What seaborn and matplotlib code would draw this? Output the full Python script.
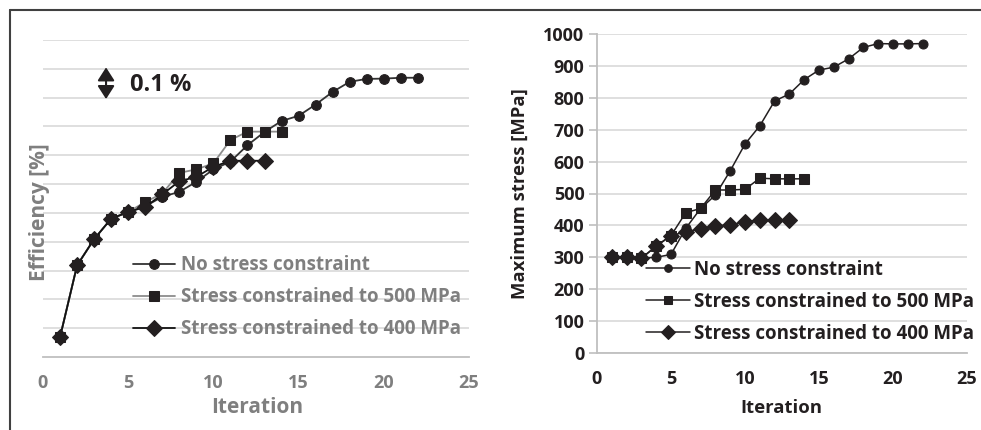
import numpy as np
import pandas as pd
import matplotlib
matplotlib.use("Agg")
import matplotlib.pyplot as plt
from matplotlib.lines import Line2D
import seaborn as sns

sns.set_theme(style="white")
plt.rcParams['font.family'] = ['Open Sans', 'DejaVu Sans']
plt.rcParams['font.weight'] = 'bold'

# ---------------- data ----------------
iter_none = list(range(1, 23))
iter_500 = list(range(1, 15))
iter_400 = list(range(1, 14))

# efficiency in grid units (1 grid = 0.1 %)
eff_none = [0.69, 3.18, 4.09, 4.80, 5.03, 5.23, 5.56, 5.73, 6.08, 6.51, 6.78, 7.35,
            7.81, 8.19, 8.37, 8.76, 9.20, 9.55, 9.65, 9.66, 9.69, 9.69]
eff_500 = [0.69, 3.18, 4.09, 4.80, 5.03, 5.38, 5.67, 6.39, 6.51, 6.72, 7.53, 7.82,
           7.82, 7.82]
eff_400 = [0.69, 3.18, 4.09, 4.80, 5.03, 5.21, 5.64, 6.10, 6.25, 6.60, 6.81, 6.81,
           6.81]

stress_none = [300, 302, 297, 300, 309, 391, 453, 495, 571, 655, 712, 790, 812,
               857, 887, 896, 922, 958, 970, 969, 969, 970]
stress_500 = [300, 302, 297, 335, 368, 440, 453, 511, 511, 513, 548, 546, 546, 546]
stress_400 = [300, 302, 297, 335, 368, 380, 389, 399, 401, 412, 416, 416, 416]

labels = ["No stress constraint", "Stress constrained to 500 MPa",
          "Stress constrained to 400 MPa"]
x_ticks = [0, 5, 10, 15, 20, 25]
stress_ticks = list(range(0, 1001, 100))

# ---------------- figure ----------------
fig = plt.figure(figsize=(9.81, 4.30), dpi=100)
W, H = 981, 430

def ax_rect(x0, x1, ytop, ybot):
    return [x0 / W, 1 - ybot / H, (x1 - x0) / W, (ybot - ytop) / H]

ax1 = fig.add_axes(ax_rect(43, 469, 40, 357))
ax2 = fig.add_axes(ax_rect(597, 967, 34, 353))

mk = '#231f20'
gray_txt = '#7f7f7f'
grid_c = '#d9d9d9'
axis_c = '#bfbfbf'
FS_TICK = 13
FS_LEG = 13.5

# ----- left chart -----
styles1 = [('o', 7, '#333333'), ('s', 7, '#8c8c8c'), ('D', 8.5, '#111111')]
for (m, ms, lc), xs, ys, lab in zip(styles1, [iter_none, iter_500, iter_400],
                                    [eff_none, eff_500, eff_400], labels):
    sns.lineplot(x=xs, y=ys, ax=ax1, marker=m, markersize=ms, color=lc,
                 markerfacecolor=mk, markeredgecolor=mk, linewidth=1.3,
                 label=lab, errorbar=None)

ax1.set_xlim(0, 25)
ax1.set_ylim(0, 11)
ax1.set_yticks(np.arange(1, 12))
ax1.set_yticklabels([])
ax1.tick_params(axis='y', length=0)
ax1.grid(axis='y', color=grid_c, linewidth=1.2)
ax1.set_axisbelow(True)
for s in ['top', 'right', 'left']:
    ax1.spines[s].set_visible(False)
ax1.spines['bottom'].set_color(axis_c)
ax1.spines['bottom'].set_linewidth(1.3)
ax1.set_xticks(x_ticks)
ax1.set_xticklabels([str(t) for t in x_ticks], fontsize=FS_TICK, color=gray_txt,
                    fontweight='bold')
ax1.tick_params(axis='x', length=0, pad=12)
ax1.set_xlabel("Iteration", fontsize=15, color=gray_txt, fontweight='bold')
ax1.xaxis.set_label_coords(0.502, -0.125)
ax1.set_ylabel("Efficiency [%]", fontsize=15, color=gray_txt, fontweight='bold')
ax1.yaxis.set_label_coords(0.016, 0.456)

ax1.annotate('', xy=(3.7, 10.05), xytext=(3.7, 8.95),
             arrowprops=dict(arrowstyle='<|-|>,head_length=0.5,head_width=0.32',
                             color='#231f20', lw=1.5,
                             mutation_scale=16, shrinkA=0, shrinkB=0))
ax1.text(5.1, 9.45, "0.1 %", fontsize=17, fontweight='bold', color='#231f20',
         va='center', ha='left')

leg1 = ax1.legend(loc='upper left', bbox_to_anchor=(0.194, 0.345), frameon=False,
                  fontsize=FS_LEG, handlelength=2.24, handletextpad=0.3,
                  labelspacing=0.64, borderaxespad=0)
for t in leg1.get_texts():
    t.set_color(gray_txt)
    t.set_fontweight('bold')

# ----- right chart -----
styles2 = [('o', 6.5, '#231f20'), ('s', 6.5, '#231f20'), ('D', 8, '#231f20')]
for (m, ms, lc), xs, ys, lab in zip(styles2, [iter_none, iter_500, iter_400],
                                    [stress_none, stress_500, stress_400], labels):
    sns.lineplot(x=xs, y=ys, ax=ax2, marker=m, markersize=ms, color=lc,
                 markerfacecolor=mk, markeredgecolor=mk, linewidth=1.1,
                 label=lab, errorbar=None)

ax2.set_xlim(0, 25)
ax2.set_ylim(0, 1000)
ax2.set_yticks(stress_ticks)
ax2.set_yticklabels([str(t) for t in stress_ticks], fontsize=FS_TICK, color='#231f20',
                    fontweight='bold')
ax2.grid(axis='y', color=grid_c, linewidth=1.2)
ax2.set_axisbelow(True)
for s in ['top', 'right']:
    ax2.spines[s].set_visible(False)
for s in ['left', 'bottom']:
    ax2.spines[s].set_color(axis_c)
    ax2.spines[s].set_linewidth(1.3)
ax2.tick_params(axis='y', length=6, color=axis_c, width=1.2, pad=3, left=True)
ax2.set_xticks(x_ticks)
ax2.set_xticklabels([str(t) for t in x_ticks], fontsize=FS_TICK, color='#231f20',
                    fontweight='bold')
ax2.tick_params(axis='x', length=0, pad=12)
ax2.set_xlabel("Iteration", fontsize=13.3, color='#231f20', fontweight='bold')
ax2.xaxis.set_label_coords(0.497, -0.143)
ax2.set_ylabel("Maximum stress [MPa]", fontsize=13.3, color='#231f20',
               fontweight='bold')
ax2.yaxis.set_label_coords(-0.184, 0.50)

leg2 = ax2.legend(loc='upper left', bbox_to_anchor=(0.112, 0.316), frameon=False,
                  fontsize=FS_LEG, handlelength=2.35, handletextpad=0.2,
                  labelspacing=0.64, borderaxespad=0)
for t in leg2.get_texts():
    t.set_color('#231f20')
    t.set_fontweight('bold')
for h, ms in zip(leg2.legend_handles, [5.5, 5.5, 7]):
    h.set_markersize(ms)

# ----- outer frame -----
fig.add_artist(Line2D([10 / W, 10 / W], [0, 1 - 10 / H], transform=fig.transFigure,
                      color='#404040', linewidth=1.5))
fig.add_artist(Line2D([10 / W, 1], [1 - 10 / H, 1 - 10 / H], transform=fig.transFigure,
                      color='#404040', linewidth=1.5))

fig.savefig("out.png", dpi=100)
